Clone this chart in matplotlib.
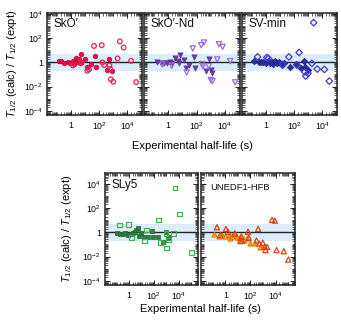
import numpy as np
import matplotlib
matplotlib.use("Agg")
import matplotlib.pyplot as plt
from matplotlib.ticker import LogLocator, FixedLocator, NullFormatter, FuncFormatter

plt.rcParams['font.family'] = ['Liberation Sans', 'DejaVu Sans']
plt.rcParams['mathtext.fontset'] = 'custom'
plt.rcParams['mathtext.rm'] = 'Liberation Sans'
plt.rcParams['mathtext.it'] = 'Liberation Sans:italic'

# ---- data (log10 values) ----
sko_f_x = [-0.88, -0.72, -0.48, -0.24, -0.05, 0.12, 0.19, 0.38, 0.36, 0.55, 0.67, 0.62, 0.98, 1.1, 1.44, 1.7, 1.78, 2.71, 2.54, 2.88]
sko_f_y = [0.1, 0.1, -0.03, 0.05, -0.08, 0.1, -0.14, 0.38, 0.05, 0.25, 0.69, -0.08, 0.25, -0.36, -0.17, 0.52, -0.41, 0.25, -0.64, -0.69]
sko_o_x = [0.12, 0.74, 1.15, 1.27, 1.63, 2.18, 2.23, 2.35, 2.73, 2.78, 2.83, 3.0, 3.31, 3.47, 3.74, 4.27, 4.63]
sko_o_y = [-0.25, -0.03, -0.69, -0.58, 1.37, 1.43, 0.0, -0.22, -0.25, -0.53, -1.4, -1.6, 0.33, 1.74, 1.24, 0.13, -1.63]

nd_f_x = [-0.76, -0.52, -0.29, -0.05, 0.14, 0.31, 0.48, 0.67, 0.81, 0.79, 1.1, 1.26, 1.45, 1.81, 1.9, 2.86, 2.69, 3.05, 3.12]
nd_f_y = [0.05, -0.08, -0.03, -0.08, 0.05, -0.08, 0.33, 0.1, 0.63, -0.08, 0.19, -0.5, -0.22, 0.46, -0.44, 0.25, -0.72, -0.64, -0.86]
nd_o_x = [-0.4, 0.26, 1.31, 1.74, 2.33, 2.52, 2.38, 2.45, 2.86, 3.45, 3.0, 3.12, 3.57, 3.83, 4.36, 4.71]
nd_o_y = [-0.17, -0.28, -0.83, 1.16, 1.43, 1.65, -0.14, -0.31, -0.31, 0.25, -1.46, -1.55, 1.51, 1.29, 0.1, -1.65]

sv_f_x = [-0.85, -0.54, -0.37, -0.19, 0.0, 0.16, 0.28, 0.4, 0.51, 0.63, 0.75, 0.94, 1.1, 1.27, 1.69, 2.16, 2.7, 2.51, 2.75, 2.98]
sv_f_y = [0.1, 0.05, 0.0, 0.05, -0.03, 0.13, -0.08, 0.05, -0.14, 0.1, -0.08, 0.05, -0.22, -0.03, -0.41, -0.14, 0.1, -0.5, -0.36, -0.64]
sv_o_x = [-0.61, 0.05, 0.16, 1.18, 1.62, 2.2, 2.35, 2.75, 2.82, 2.98, 3.26, 3.38, 3.64, 4.15, 4.5]
sv_o_y = [0.46, 0.41, 0.33, -0.17, 0.46, -0.22, 0.83, -0.78, -1.13, -0.91, -0.08, 3.3, -0.55, -0.58, -1.55]

sly_f_x = [-0.98, -0.76, -0.5, -0.3, -0.1, 0.12, 0.3, 0.44, 0.58, 0.7, 0.76, 0.98, 1.18, 1.5, 1.82, 1.96, 2.36, 2.7, 2.98, 3.1, 3.24]
sly_f_y = [-0.08, -0.14, -0.17, -0.08, -0.22, -0.14, -0.03, 0.05, 0.19, 0.33, -0.31, -0.08, -0.36, -0.36, 0.13, -0.36, -0.36, -0.78, 0.05, -0.45, -0.36]
sly_o_x = [-0.76, -0.04, 0.18, 1.38, 1.24, 2.36, 2.52, 3.02, 2.98, 3.18, 3.58, 3.7, 4.04, 5.02]
sly_o_y = [0.61, 0.67, -0.42, 0.19, -0.7, 1.03, -0.86, -1.28, -0.08, -0.64, -0.08, 3.67, 1.53, -1.67]

une_f_x = [-0.94, -0.54, -0.27, 0.0, 0.27, 0.4, 0.53, 0.75, 0.93, 1.12, 1.28, 1.47, 1.73, 1.95, 2.4, 2.8, 3.07]
une_f_y = [-0.17, -0.28, -0.22, -0.31, -0.22, -0.45, -0.31, -0.17, -0.36, -0.5, -0.28, -0.67, -0.5, -0.92, -0.92, -1.2, -1.12]
une_o_x = [-0.67, -0.4, 0.05, 0.21, 0.75, 1.28, 1.2, 1.33, 1.81, 1.87, 2.61, 2.48, 2.72, 2.99, 3.14, 3.2, 3.33, 3.73, 3.94, 4.08, 4.66, 5.02]
une_o_y = [0.42, -0.22, 0.28, 0.05, -0.08, -0.36, -0.72, -0.7, 0.05, -0.45, 0.28, -0.67, -0.92, -0.86, -1.2, -1.47, -1.2, 1.03, 0.97, -1.47, -1.56, -2.25]

names = ["SkO\u2032", "SkO\u2032-Nd", "SV-min", "SLy5", "UNEDF1-HFB"]
label_decades = [-4, -2, 0, 2, 4]

W, H = 341, 321
fig = plt.figure(figsize=(W / 100, H / 100), dpi=100)

def ax_at(x0, y0, x1, y1):
    return fig.add_axes([x0 / W, 1 - y1 / H, (x1 - x0) / W, (y1 - y0) / H])

def fmt(v, pos):
    e = int(round(np.log10(v)))
    if e == 0:
        return "1"
    return r"$10^{%d}$" % e

def style(ax, xlim, ylim, ylabels):
    ax.set_xscale('log')
    ax.set_yscale('log')
    ax.set_xlim(10 ** xlim[0], 10 ** xlim[1])
    ax.set_ylim(10 ** ylim[0], 10 ** ylim[1])
    ax.axhspan(0.2, 5, color='#dcedf9', zorder=0, lw=0)
    ax.axhline(1, color='#222222', lw=1.0, zorder=1)
    ax.yaxis.set_major_locator(FixedLocator([10.0 ** e for e in label_decades]))
    ax.xaxis.set_major_locator(FixedLocator([10.0 ** e for e in label_decades]))
    ax.yaxis.set_minor_locator(LogLocator(base=10, subs=np.arange(1, 10), numticks=40))
    ax.xaxis.set_minor_locator(LogLocator(base=10, subs=np.arange(1, 10), numticks=40))
    ax.xaxis.set_major_formatter(FuncFormatter(fmt))
    ax.yaxis.set_major_formatter(FuncFormatter(fmt))
    ax.xaxis.set_minor_formatter(NullFormatter())
    ax.yaxis.set_minor_formatter(NullFormatter())
    ax.tick_params(which='both', direction='in', top=True, right=True, labelsize=6.3, color='#222222')
    ax.tick_params(axis='x', pad=4)
    ax.tick_params(axis='y', pad=3, labelleft=ylabels)
    ax.tick_params(which='major', length=3.5, width=0.7)
    ax.tick_params(which='minor', length=2.0, width=0.5, labelbottom=False, labelleft=False)
    for s in ax.spines.values():
        s.set_linewidth(1.1)
        s.set_color('#222222')

def pts(v):
    return 10.0 ** np.asarray(v)

top_xl = (-1.72, 5.05)
top_yl = (-4.36, 4.1)
bot_xl = (-1.94, 5.55)
bot_yl = (-4.35, 4.9)

a1 = ax_at(47, 13, 142, 115)
a2 = ax_at(143.5, 13, 240, 115)
a3 = ax_at(242, 13, 337, 115)
a4 = ax_at(105, 173, 198, 285)
a5 = ax_at(201, 173, 295, 285)

for ax, yl in [(a1, True), (a2, False), (a3, False)]:
    style(ax, top_xl, top_yl, yl)
for ax, yl in [(a4, True), (a5, False)]:
    style(ax, bot_xl, bot_yl, yl)

ms = 11
# SkO'
a1.scatter(pts(sko_f_x), pts(sko_f_y), s=ms, marker='o', c='#e0144c', edgecolors='#c00038', lw=0.5, zorder=3)
a1.scatter(pts(sko_o_x), pts(sko_o_y), s=ms, marker='o', facecolors='none', edgecolors='#ec2152', lw=0.9, zorder=3)
# SkO'-Nd
a2.scatter(pts(nd_f_x), pts(nd_f_y), s=ms + 3, marker='v', c='#6a3fa8', edgecolors='#55308e', lw=0.5, zorder=3)
a2.scatter(pts(nd_o_x), pts(nd_o_y), s=ms + 3, marker='v', facecolors='none', edgecolors='#9a6ae0', lw=0.9, zorder=3)
# SV-min
a3.scatter(pts(sv_f_x), pts(sv_f_y), s=ms, marker='D', c='#2c2c9c', edgecolors='#22228a', lw=0.5, zorder=3)
a3.scatter(pts(sv_o_x), pts(sv_o_y), s=ms, marker='D', facecolors='none', edgecolors='#3b3bd0', lw=0.9, zorder=3)
# SLy5
a4.scatter(pts(sly_f_x), pts(sly_f_y), s=ms, marker='s', c='#2e7d3c', edgecolors='#1f6a2c', lw=0.5, zorder=3)
a4.scatter(pts(sly_o_x), pts(sly_o_y), s=ms, marker='s', facecolors='none', edgecolors='#43b053', lw=0.9, zorder=3)
# UNEDF1-HFB
a5.scatter(pts(une_f_x), pts(une_f_y), s=ms + 3, marker='^', c='#f6a500', edgecolors='#e07000', lw=0.6, zorder=3)
a5.scatter(pts(une_o_x), pts(une_o_y), s=ms + 3, marker='^', facecolors='none', edgecolors='#d6441a', lw=0.9, zorder=3)

for ax, nm in zip([a1, a2, a3, a4], names[:4]):
    ax.text(0.07, 0.95, nm, transform=ax.transAxes, fontsize=8.5, va='top', ha='left', color='#111111')
a5.text(0.1, 0.91, names[4], transform=a5.transAxes, fontsize=6.8, va='top', ha='left', color='#111111')

ylab = r"$T_{1/2}$ (calc) / $T_{1/2}$ (expt)"
fig.text(12 / W, 1 - 64 / H, ylab, rotation=90, ha='center', va='center', fontsize=8)
fig.text(67 / W, 1 - 229 / H, ylab, rotation=90, ha='center', va='center', fontsize=8)
xlab = "Experimental half-life (s)"
fig.text(192 / W, 1 - 146 / H, xlab, ha='center', va='center', fontsize=8)
fig.text(200 / W, 1 - 308.5 / H, xlab, ha='center', va='center', fontsize=8)

fig.savefig("out.png", dpi=100)
